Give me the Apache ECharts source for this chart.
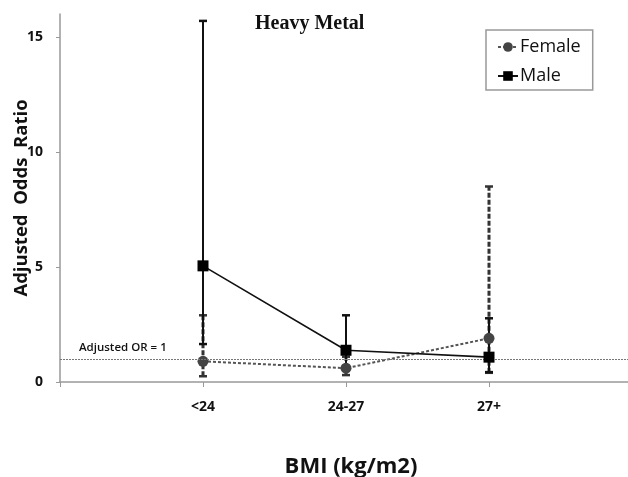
<!DOCTYPE html>
<html><head><meta charset="utf-8">
<script src="https://cdn.jsdelivr.net/npm/echarts@6/dist/echarts.min.js"></script>
<style>html,body{margin:0;padding:0;background:#fff}#c{width:628px;height:477px}</style>
</head><body><div id="c"></div>
<script>
const categories = ['<24', '24-27', '27+'];
const femaleOR = [0.9, 0.6, 1.9];
const femaleLow = [0.25, 0.3, 0.4];
const femaleHigh = [2.9, 1.1, 8.5];
const maleOR = [5.05, 1.38, 1.08];
const maleLow = [1.65, 0.5, 0.43];
const maleHigh = [15.7, 2.9, 2.77];
const yTicks = [0, 5, 10, 15];

const pos = categories.map((c, i) => i + 1);
const femalePts = pos.map((x, i) => [x, femaleOR[i]]);
const malePts = pos.map((x, i) => [x, maleOR[i]]);
const femaleBars = pos.map((x, i) => [x, femaleLow[i], femaleHigh[i]]);
const maleBars = pos.map((x, i) => [x, maleLow[i], maleHigh[i]]);

function errRender(color, width, dash) {
  return function (params, api) {
    const x = api.value(0);
    const lo = api.coord([x, api.value(1)]);
    const hi = api.coord([x, api.value(2)]);
    const st = { stroke: color, lineWidth: width, lineDash: dash };
    const cap = { stroke: color, lineWidth: 2.5 };
    return { type: 'group', children: [
      { type: 'line', shape: { x1: lo[0], y1: lo[1], x2: hi[0], y2: hi[1] }, style: st },
      { type: 'line', shape: { x1: hi[0] - 4, y1: hi[1], x2: hi[0] + 4, y2: hi[1] }, style: cap },
      { type: 'line', shape: { x1: lo[0] - 4, y1: lo[1], x2: lo[0] + 4, y2: lo[1] }, style: cap }
    ]};
  };
}

const chart = echarts.init(document.getElementById('c'));
chart.setOption({
  animation: false,
  title: { text: 'Heavy Metal', left: 250, top: 9,
    textStyle: { fontFamily: 'Liberation Serif', fontWeight: 'bold', fontSize: 20, color: '#111' } },
  legend: {
    orient: 'vertical', left: 486, top: 30, padding: [8, 12, 5, 11], itemGap: 11,
    borderColor: '#999', borderWidth: 1.5, itemWidth: 20, itemHeight: 12,
    textStyle: { fontFamily: 'Open Sans', fontSize: 18, fontWeight: 500, color: '#111', padding: [0, 0, 0, -3] },
    data: ['Female', 'Male']
  },
  grid: { left: 60, right: -4, top: 14, bottom: 95, outerBoundsMode: 'none', containLabel: false },
  xAxis: {
    type: 'value', min: 0, max: 4, interval: 1,
    name: 'BMI (kg/m2)', nameLocation: 'middle', nameGap: 74, nameMoveOverlap: false,
    nameTextStyle: { fontFamily: 'Open Sans', fontWeight: 'bold', fontSize: 22, color: '#111', padding: [0, 0, 0, 10] },
    axisLine: { lineStyle: { color: '#999', width: 1.5 } },
    axisTick: { show: true, length: 5, lineStyle: { color: '#999' } },
    splitLine: { show: false },
    axisLabel: { margin: 18, fontFamily: 'Open Sans', fontWeight: 'bold', fontSize: 14, color: '#111',
      formatter: v => categories[v - 1] || '' }
  },
  yAxis: {
    type: 'value', min: 0, max: 16, interval: 5,
    name: 'Adjusted  Odds  Ratio', nameLocation: 'middle', nameGap: 29, nameMoveOverlap: false,
    nameTextStyle: { fontFamily: 'Open Sans', fontWeight: 'bold', fontSize: 18.5, color: '#111' },
    axisLine: { show: true, lineStyle: { color: '#999', width: 1.5 } },
    axisTick: { show: true, length: 4, lineStyle: { color: '#999' } },
    splitLine: { show: false },
    axisLabel: { showMaxLabel: false, margin: 17, fontFamily: 'Open Sans', fontWeight: 'bold', fontSize: 14, color: '#111',
      formatter: v => yTicks.includes(v) ? String(v) : '' }
  },
  graphic: [{ type: 'text', left: 79, top: 342,
    style: { text: 'Adjusted OR = 1', font: '600 11.5px "Open Sans"', fill: '#111' } }],
  series: [
    { type: 'custom', name: 'femaleErr', renderItem: errRender('#333', 3, [5, 2]), data: femaleBars, z: 3, silent: true },
    { type: 'custom', name: 'maleErr', renderItem: errRender('#111', 2, null), data: maleBars, z: 3, silent: true },
    { type: 'line', name: 'Female', data: femalePts, symbol: 'circle', symbolSize: 11,
      itemStyle: { color: '#444' }, lineStyle: { color: '#555', width: 2, type: [3, 2] }, z: 4,
      markLine: { silent: true, symbol: 'none', label: { show: false },
        lineStyle: { color: '#777', width: 1.2, type: [2, 1] }, data: [{ yAxis: 1 }] } },
    { type: 'line', name: 'Male', data: malePts, symbol: 'rect', symbolSize: 11,
      itemStyle: { color: '#000' }, lineStyle: { color: '#111', width: 1.6 }, z: 5 }
  ]
});
</script></body></html>
